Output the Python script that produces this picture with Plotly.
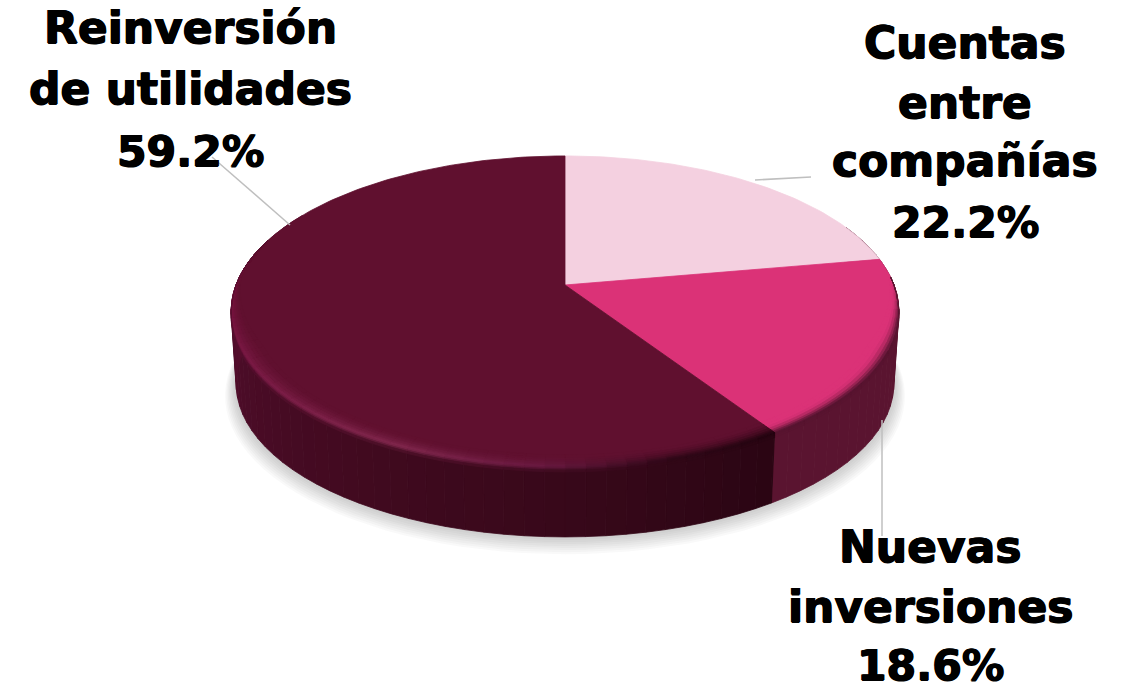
import numpy as np
import plotly.graph_objects as go

labels = ["Cuentas<br>entre<br>compañías", "Nuevas<br>inversiones", "Reinversión<br>de utilidades"]
values = [22.2, 18.6, 59.2]
colors = ["#F4D0E0", "#DB3277", "#60102F"]

W, H = 1133, 685
CX, CY, A, B, K = 565.0, 285.0, 151.0, 329.0, 0.17


def P(deg, s=1.0, dy=0.0):
    t = np.radians(np.asarray(deg, dtype=float))
    u, v = np.sin(t), -np.cos(t)
    w = 1 - K * v
    return CX + s * B * u / w, CY + s * A * v / w + dy


def hx(c):
    return np.array([int(c[i:i + 2], 16) for i in (1, 3, 5)], dtype=float)


def lerp(a, b, f):
    return a + (b - a) * np.clip(f, 0, 1)


def css(c):
    return "rgb(%d,%d,%d)" % tuple(np.round(c))


def ramp(deg, stops):
    ds = [x[0] for x in stops]
    return np.array([np.interp(deg, ds, [hx(x[1])[i] for x in stops]) for i in range(3)])


fig = go.Figure()


def poly(x, y, color, line=True):
    x, y = np.asarray(x), np.asarray(y)
    fig.add_trace(go.Scatter(x=np.r_[x, x[0]], y=np.r_[y, y[0]], mode="lines", fill="toself",
                             fillcolor=color, line=dict(color=color, width=0.8) if line else dict(width=0),
                             hoverinfo="skip", showlegend=False))


# soft ground shadow
full = np.arange(0, 361, 3)
for i in range(10):
    f = i / 9
    x, y = P(full, 1.018 - 0.035 * f, 84 - 12 * f)
    poly(x, y, "rgba(60,60,60,0.03)", line=False)

# slice boundaries, from the data
edges = np.cumsum([0] + values) / sum(values) * 360
n_end = edges[2]

# outer wall
STEP = 3.0
WALL_DARK = [(n_end, "#2A0513"), (175, "#360819"), (215, "#420A20"), (250, "#4C0C28"), (275, "#570E2E"), (300, "#5A0F30")]
WALL_PINK = "#5A1430"
RIM_DARK = [(n_end, "#22040F"), (165, "#300818"), (183, "#6A1A42"), (205, "#83294F"), (240, "#7B1B46"), (268, "#770F3D"), (285, "#60102F")]
RIM_PINK = "#561430"


def wall_col(d):
    return hx(WALL_PINK) if d < n_end else ramp(d, WALL_DARK)


grid = sorted(list(np.arange(66, 300 + STEP, STEP)) + [n_end])
for a0, a1 in zip(grid[:-1], grid[1:]):
    xs = np.linspace(a0, a1, 3)
    xt, yt = P(xs)
    xb, yb = P(xs, 0.985, 72.7)
    poly(np.r_[xt, xb[::-1]], np.r_[yt, yb[::-1]], css(wall_col((a0 + a1) / 2)))

# top surface
for i, (v, c) in enumerate(zip(values, colors)):
    arc = np.linspace(edges[i], edges[i + 1], int(max(v * 3.6, 6)))
    x, y = P(arc)
    poly(np.r_[CX, x], np.r_[CY, y], c)


def band(xs, d):
    """Rim curve moved d pixels: towards the centre if d<0, down the wall if d>0."""
    xs = np.asarray(xs, dtype=float)
    v = -np.cos(np.radians(xs))
    if d <= 0:
        g = np.clip((v + 0.1) / 0.5, 0.1, 1.0)
        return P(xs, 1 + d * g / 180.0)
    x, y = P(xs)
    return x, y + d * np.clip(v / 0.15, 0, 1)


# bevel along the front rim
rows = [-12, -9, -7, -5, -3, -1.5, 0, 1.5, 3, 5]
bgrid = sorted(list(np.arange(84, 291, STEP)) + [n_end])
for a0, a1 in zip(bgrid[:-1], bgrid[1:]):
    mid = (a0 + a1) / 2
    pink = mid < n_end
    s = np.clip((mid - 88) / 14, 0, 1) * np.clip((288 - mid) / 14, 0, 1)
    if s <= 0:
        continue
    base = hx(colors[1] if pink else colors[2])
    rim = hx(RIM_PINK) if pink else ramp(mid, RIM_DARK)
    wall = wall_col(mid)
    reach = 8.0 if pink else 12.0
    for lo, hi in zip(rows[:-1], rows[1:]):
        m = (lo + hi) / 2
        if m <= 0:
            f = max(0.0, 1 + m / reach) ** 2
            c = lerp(base, lerp(base, rim, s), f)
        else:
            c = lerp(lerp(wall, rim, s), wall, m / 5)
        xs = np.linspace(a0, a1, 3)
        x0, y0 = band(xs, lo)
        x1, y1 = band(xs, hi)
        poly(np.r_[x0, x1[::-1]], np.r_[y0, y1[::-1]], css(c))

# callout lines
leaders = [((755, 180), (811, 177)), ((882, 420), (882, 536)), ((290, 225), (212, 157))]
shapes = [dict(type="line", x0=p[0], y0=p[1], x1=q[0], y1=q[1], line=dict(color="#BFBFBF", width=1.5))
          for p, q in leaders]

# labels: every line placed on its own so the line pitch matches
SHADOW = "0.7px 0 0 #000,-0.7px 0 0 #000,0 0.5px 0 #000"
line_x = [965, 930, 190]
line_y = [[42, 102, 160, 222], [546, 606, 665], [27, 88, 151]]
annotations = []
for lab, val, px, ys in zip(labels, values, line_x, line_y):
    parts = lab.split("<br>") + [f"{val:.1f}%"]
    for j, (txt, py) in enumerate(zip(parts, ys)):
        size = 42.5 if j == len(parts) - 1 else 44
        annotations.append(dict(x=px, y=py, xref="x", yref="y", text=txt, showarrow=False,
                                font=dict(family="DejaVu Sans", size=size, color="#000000", weight=700, shadow=SHADOW),
                                align="center", xanchor="center", yanchor="middle"))

fig.update_layout(width=W, height=H, margin=dict(l=0, r=0, t=0, b=0), paper_bgcolor="white",
                  plot_bgcolor="white", showlegend=False, shapes=shapes, annotations=annotations,
                  xaxis=dict(range=[0, W], visible=False, fixedrange=True),
                  yaxis=dict(range=[H, 0], visible=False, fixedrange=True))
fig.write_html("out.html", post_script="document.body.style.margin='0';", config=dict(displayModeBar=False))
